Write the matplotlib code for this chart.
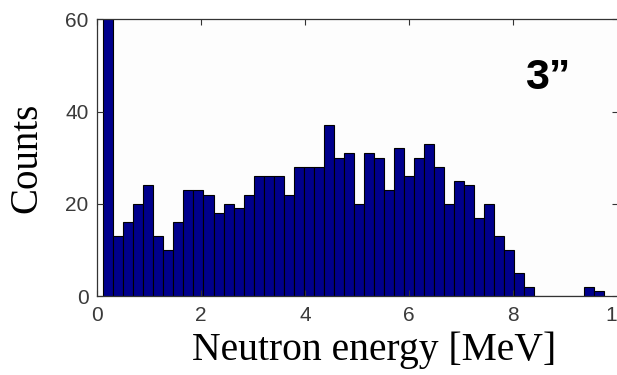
import numpy as np
import matplotlib
matplotlib.use("Agg")
import matplotlib.pyplot as plt

# Histogram data (50 bins between min and max energy)
energy_min = 0.12
energy_max = 9.75
counts = [75, 13, 16, 20, 24, 13, 10, 16, 23, 23,
          22, 18, 20, 19, 22, 26, 26, 26, 22, 28,
          28, 28, 37, 30, 31, 20, 31, 30, 23, 32,
          26, 30, 33, 28, 20, 25, 24, 17, 20, 13,
          10, 5, 2, 0, 0, 0, 0, 0, 2, 1]
x_ticks = [0, 2, 4, 6, 8, 10]
x_ticklabels = ["0", "2", "4", "6", "8", "10"]
y_ticks = [0, 20, 40, 60]
label_text = "3\u201d"

edges = np.linspace(energy_min, energy_max, len(counts) + 1)

fig = plt.figure(figsize=(6.17, 3.75), dpi=100)
fig.patch.set_facecolor("white")
ax = fig.add_axes([97 / 617, 1 - 296 / 375, (617.5 - 97) / 617, (296 - 19.3) / 375])
ax.set_facecolor("#fdfdfd")

ax.hist(edges[:-1], bins=edges, weights=counts, color="#00008c",
        edgecolor="black", linewidth=0.8)

ax.set_xlim(0, 10)
ax.set_ylim(0, 60)
ax.set_xticks(x_ticks)
ax.set_xticklabels(x_ticklabels)
ax.set_yticks(y_ticks)

tick_color = "#3a3a3a"
ax.tick_params(direction="in", length=4, width=0.8, color="#333333",
               top=True, right=True, labelsize=15, labelcolor=tick_color)
ax.tick_params(axis="x", pad=7)
ax.tick_params(axis="y", pad=6)
for lab in ax.get_xticklabels() + ax.get_yticklabels():
    lab.set_fontfamily("Liberation Sans")
for s in ax.spines.values():
    s.set_color("#333333")
    s.set_linewidth(0.9)

ax.set_xlabel("Neutron energy [MeV]", family="Liberation Serif", fontsize=28.5)
ax.xaxis.set_label_coords(0.532, -0.13)
ax.set_ylabel("Counts", family="Liberation Serif", fontsize=28, labelpad=14)

ax.text(0.866, 0.787, label_text, transform=ax.transAxes, family="Liberation Sans",
        fontweight="bold", fontsize=31, ha="center", va="center", color="black")

fig.savefig("out.png", dpi=100)
